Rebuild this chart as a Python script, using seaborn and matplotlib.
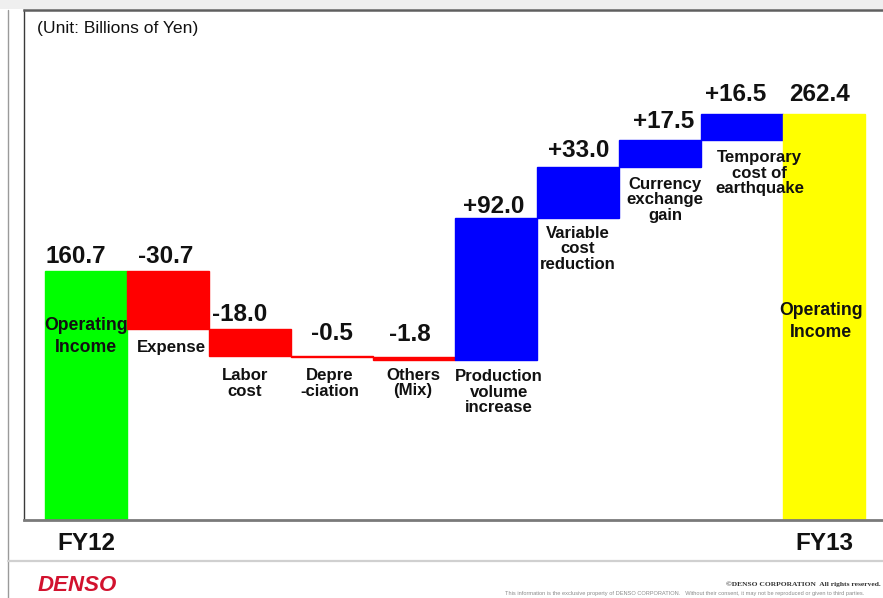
import matplotlib
matplotlib.use("Agg")
import matplotlib.pyplot as plt
import numpy as np
import pandas as pd
import seaborn as sns
from matplotlib.patches import Rectangle
from matplotlib.lines import Line2D

# ---------------- data ----------------
steps = ["FY12", "Expense", "Labor cost", "Depreciation", "Others (Mix)",
         "Production volume increase", "Variable cost reduction",
         "Currency exchange gain", "Temporary cost of earthquake", "FY13"]
start_total = 160.7
# step heights as drawn in the chart (billions of yen)
changes = [-37.0, -18.0, -0.5, -1.8, 92.0, 33.0, 17.5, 16.5]
end_total = 262.4
value_labels = ["160.7", "-30.7", "-18.0", "-0.5", "-1.8",
                "+92.0", "+33.0", "+17.5", "+16.5", "262.4"]
step_labels = ["Operating\nIncome", "Expense", "Labor\ncost", "Depre\n-ciation",
               "Others\n(Mix)", "Production\nvolume\nincrease",
               "Variable\ncost\nreduction", "Currency\nexchange\ngain",
               "Temporary\ncost of\nearthquake", "Operating\nIncome"]
year_labels = ["FY12", "FY13"]
unit_text = "(Unit: Billions of Yen)"

# ---------------- waterfall geometry ----------------
bottoms, heights, kinds = [0.0], [start_total], ["start"]
level = start_total
for c in changes:
    if c < 0:
        bottoms.append(level + c); heights.append(-c); kinds.append("down")
    else:
        bottoms.append(level); heights.append(c); kinds.append("up")
    level += c
bottoms.append(0.0); heights.append(end_total); kinds.append("end")

df = pd.DataFrame({"step": steps, "height": heights, "bottom": bottoms, "kind": kinds})
kind_colors = {"start": "#00ff00", "down": "#ff0000", "up": "#0000ff", "end": "#ffff00"}

# ---------------- figure ----------------
sns.set_style("white")
plt.rcParams["font.family"] = ["Liberation Sans", "DejaVu Sans"]

W, H = 883, 598
fig = plt.figure(figsize=(W / 100, H / 100), dpi=100)
fig.patch.set_facecolor("white")

ax_l, ax_r, ax_t, ax_b = 24, 883, 10, 520
ax = fig.add_axes([ax_l / W, 1 - ax_b / H, (ax_r - ax_l) / W, (ax_b - ax_t) / H])

sns.barplot(data=df, x="step", y="height", order=steps, bottom=df["bottom"].values,
            width=1.0, color="gray", saturation=1, errorbar=None, ax=ax,
            linewidth=1.0)
for p, k in zip(ax.patches, df["kind"]):
    p.set_facecolor(kind_colors[k])
    p.set_edgecolor(kind_colors[k])

bar_px = 82.0
bar0_left = 45
x0 = -0.5 - (bar0_left - ax_l) / bar_px
ax.set_xlim(x0, x0 + (ax_r - ax_l) / bar_px)
ax.set_ylim(0, (ax_b - ax_t) / 1.547)

ax.set_xticks([]); ax.set_yticks([])
ax.set_xlabel(""); ax.set_ylabel("")
ax.spines["right"].set_visible(False)
ax.spines["top"].set_color("#5f5f5f"); ax.spines["top"].set_linewidth(1.8)
ax.spines["left"].set_color("#3a3a3a"); ax.spines["left"].set_linewidth(1.0)
ax.spines["bottom"].set_color("#7a7a7a"); ax.spines["bottom"].set_linewidth(2.0)

# value labels above each bar
val_dx = [-10, -2, -10, 0, -4, -2, 1, 4, -6, -4]
val_gap = [8, 8, 8, 16, 16.5, 4.5, 9.5, 11.5, 13.5, 13.5]
for i, txt in enumerate(value_labels):
    top = df["bottom"][i] + df["height"][i]
    ax.annotate(txt, xy=(i, top), xytext=(val_dx[i], val_gap[i]),
                textcoords="offset pixels", ha="center", va="baseline",
                fontsize=17.5, fontweight="bold", color="#111111")

# step labels below each step bar
lab_dx = [0, 3, -5, -2, -1, 3, 0, 5, 17.5, 0]
lab_gap = [0, 11.4, 11.8, 11, 7.7, 9, 8, 10, 10.4, 0]
for i, txt in enumerate(step_labels):
    if kinds[i] in ("start", "end"):
        continue
    ax.annotate(txt, xy=(i, df["bottom"][i]), xytext=(lab_dx[i], -lab_gap[i]),
                textcoords="offset pixels", ha="center", va="top",
                fontsize=12.1, fontweight="bold", color="#111111", linespacing=1.05)

# labels inside total bars
ax.annotate(step_labels[0], xy=(0, 131.2), ha="center", va="top", fontsize=12.7,
            fontweight="bold", color="#111111", linespacing=1.4)
ax.annotate(step_labels[-1], xy=(9, 141.1), xytext=(-3, 0), textcoords="offset pixels",
            ha="center", va="top", fontsize=12.7, fontweight="bold",
            color="#111111", linespacing=1.4)

# year labels under the axis
for i, txt in zip([0, len(steps) - 1], year_labels):
    ax.annotate(txt, xy=(i, 0), xytext=(0, -30), textcoords="offset pixels",
                ha="center", va="baseline", fontsize=17.5, fontweight="bold",
                color="#111111", annotation_clip=False)

# unit text
fig.text(37 / W, 1 - 33.3 / H, unit_text, ha="left", va="baseline",
         fontsize=12.6, color="#111111")

# slide decoration
fig.patches.append(Rectangle((0, 1 - 9 / H), 1, 9 / H, transform=fig.transFigure,
                             facecolor="#efefef", edgecolor="none", zorder=0))
fig.lines.append(Line2D([8 / W, 8 / W], [0, 1 - 10 / H], transform=fig.transFigure,
                        color="#9a9a9a", linewidth=1.0))
fig.lines.append(Line2D([8 / W, 1], [1 - 561 / H, 1 - 561 / H], transform=fig.transFigure,
                        color="#d0d0d0", linewidth=1.6))
fig.text(38 / W, 1 - 591 / H, "DENSO", ha="left", va="baseline", fontsize=16,
         fontweight="bold", fontstyle="italic", color="#d2122e")
fig.text(881 / W, 1 - 586 / H, "\u00a9DENSO CORPORATION  All rights reserved.",
         ha="right", va="baseline", fontsize=5.4, fontweight="bold",
         family="Liberation Serif", color="#333333")
fig.text(505 / W, 1 - 595.5 / H,
         "This information is the exclusive property of DENSO CORPORATION.   Without their consent, "
         "it may not be reproduced or given to third parties.",
         ha="left", va="baseline", fontsize=4.1, color="#8a8a8a")

fig.savefig("out.png", dpi=100)
